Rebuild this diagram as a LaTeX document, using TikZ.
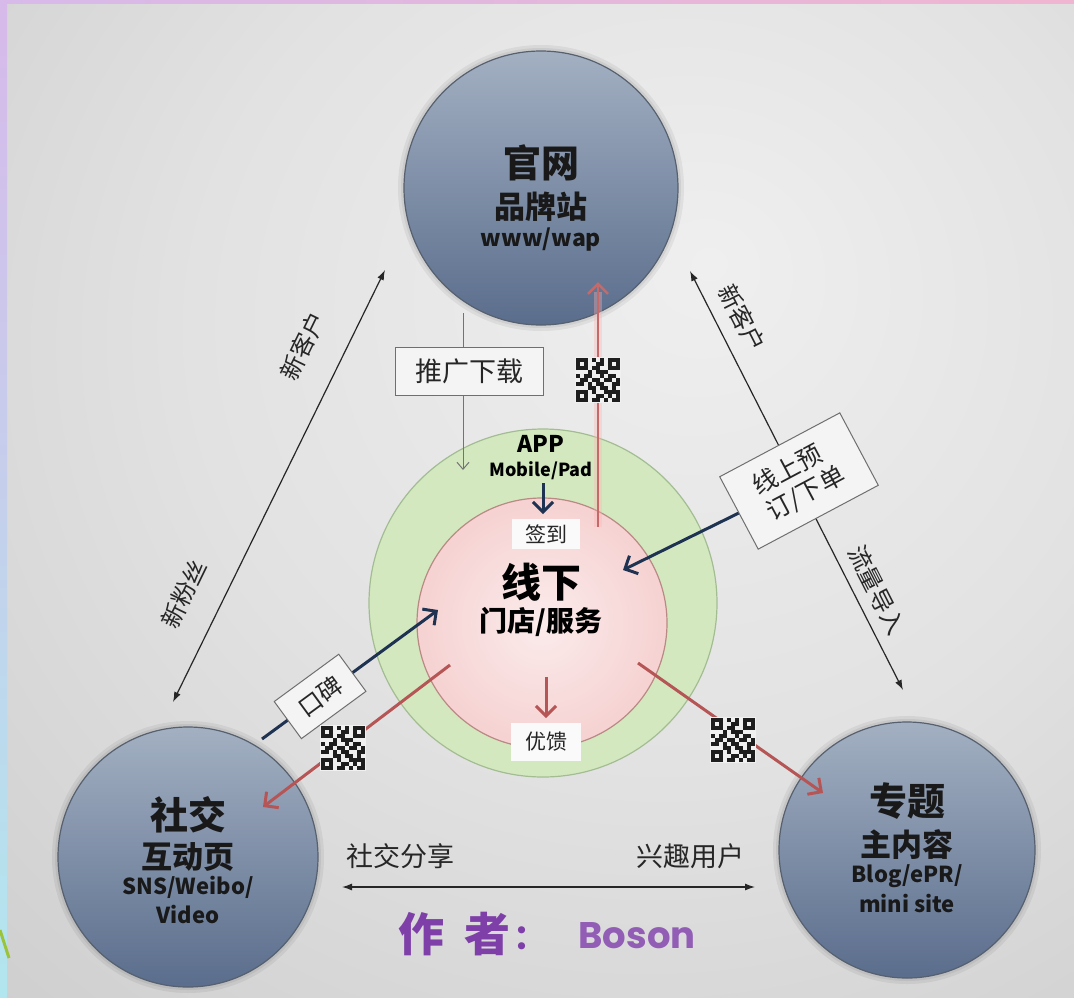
\documentclass[tikz,border=0pt]{standalone}
\usepackage{fontspec}
\setmainfont{Noto Sans CJK SC}
\newfontfamily\popfont{Poppins}
\usetikzlibrary{arrows.meta}
\definecolor{bgA}{HTML}{EFEFEF}
\definecolor{bgB}{HTML}{E2E2E2}
\definecolor{bgC}{HTML}{C8C8C8}
\definecolor{bgD}{HTML}{A8A8A8}
\definecolor{bluetop}{HTML}{A3B0C2}
\definecolor{bluebot}{HTML}{5A6D8C}
\definecolor{bluebd}{HTML}{56606E}
\definecolor{greenfill}{HTML}{D4E8C0}
\definecolor{greenbd}{HTML}{A3BD93}
\definecolor{pinkin}{HTML}{FBEBEB}
\definecolor{pinkout}{HTML}{F1B8B8}
\definecolor{pinkbd}{HTML}{B98A84}
\definecolor{navy}{HTML}{1E3252}
\definecolor{redar}{HTML}{B65555}
\definecolor{redup}{HTML}{C46A6A}
\definecolor{boxbd}{HTML}{6F6F6F}
\definecolor{boxfill}{HTML}{F4F4F4}
\definecolor{authc}{HTML}{7E40A8}
\definecolor{qrc}{HTML}{1E1E1E}
\definecolor{lbtop}{HTML}{D7B9EA}
\definecolor{lbbot}{HTML}{B2E6EE}
\definecolor{tbright}{HTML}{F0B5D0}
\definecolor{cornergreen}{HTML}{9CC43A}
\pgfdeclareradialshading{bgshade}{\pgfpoint{8bp}{12bp}}{color(0bp)=(bgA); color(22bp)=(bgB); color(50bp)=(bgC); color(80bp)=(bgD)}
\pgfdeclareradialshading{pinkshade}{\pgfpoint{0bp}{0bp}}{color(0bp)=(pinkin); color(50bp)=(pinkout)}
\begin{document}
\begin{tikzpicture}[x=1pt,y=-1pt,
  bigc/.style={circle, draw=bluebd, line width=1.2pt, top color=bluetop, bottom color=bluebot, minimum size=#1, inner sep=0pt},
  ttl/.style={font=\bfseries\fontsize{38}{40}\selectfont, text=black!90},
  sub/.style={font=\bfseries\fontsize{31}{33}\selectfont, text=black!90},
  lat/.style={font=\bfseries\fontsize{22}{24}\selectfont, text=black!90},
  lab/.style={font=\fontsize{24}{26}\selectfont, text=black!85},
  tagbox/.style={draw=boxbd, line width=1pt, fill=boxfill, inner sep=0pt, font=\fontsize{26}{30}\selectfont, text=black!85},
  wtag/.style={fill=white!96!gray, inner sep=0pt, font=\fontsize{21}{23}\selectfont, text=black!85},
  dbl/.style={line width=1.2pt, draw=black!85, {Latex[length=10pt,width=7pt]}-{Latex[length=10pt,width=7pt]}},
  navyar/.style={line width=3pt, draw=navy, -{Straight Barb[length=10pt,width=20pt]}},
  redarr/.style={line width=3pt, draw=redar, -{Straight Barb[length=10pt,width=20pt]}},
  grayar/.style={line width=1pt, draw=black!55, -{Straight Barb[length=7pt,width=12pt]}},
  auth/.style={font=\bfseries\fontsize{46}{48}\selectfont, text=authc},
  qr/.pic={
    \fill[white!88!gray] (-23,-23) rectangle (23,23);
    \foreach \row [count=\i from 0] in {{1,1,1,0,1,0,1,0,1,1,1},{1,0,1,0,0,1,1,0,1,0,1},{1,1,1,0,1,1,0,0,1,1,1},{0,0,0,1,0,1,1,1,0,0,0},{1,0,1,1,0,0,1,0,1,1,0},{0,1,1,0,1,1,0,1,1,0,1},{1,1,0,1,0,1,1,0,0,1,1},{0,0,0,1,1,0,1,1,0,1,0},{1,1,1,0,1,0,0,1,1,1,1},{1,0,1,0,0,1,1,0,1,0,1},{1,1,1,0,1,1,0,1,0,1,1}}{
      \foreach \b [count=\j from 0] in \row {
        \ifnum\b=1 \fill[qrc] (-22+\j*4,-22+\i*4) rectangle ++(4,4); \fi
      }
    }
  }
]
\useasboundingbox (0,0) rectangle (1074,997);
% background
\shade[shading=bgshade] (7,3) rectangle (1074,997);
\shade[top color=lbtop, bottom color=lbbot] (0,0) rectangle (7,997);
\shade[left color=lbtop, right color=tbright] (0,0) rectangle (1074,3);
\draw[line width=3pt, draw=cornergreen] (0,930) -- (9,958);

% halos
\foreach \cx/\cy/\r in {541/188/137, 188/857/130, 907/850/128}{
  \fill[black, opacity=0.06] (\cx,\cy) circle[radius=\r+6];
  \fill[black, opacity=0.06] (\cx,\cy) circle[radius=\r+3];
}
% big circles
\node[bigc=274] (gw) at (541,188) {};
\node[bigc=260] (sj) at (188,857) {};
\node[bigc=256] (zt) at (907,850) {};
% center rings
\node[circle, draw=greenbd, line width=1.2pt, fill=greenfill, minimum size=348, inner sep=0pt] (app) at (543,603) {};
\node[circle, draw=pinkbd, line width=1.2pt, shading=pinkshade, minimum size=250, inner sep=0pt] (xx) at (542,623) {};

% coordinates
\coordinate (la) at (385,270);
\coordinate (lb) at (173,702);
\coordinate (ra) at (690,271);
\coordinate (rb) at (903,690);
\coordinate (ba) at (342,887);
\coordinate (bb) at (755,887);
\coordinate (g1) at (463,313);
\coordinate (g2) at (463,470);
\coordinate (p1) at (543,483);
\coordinate (p2) at (543,514);
\coordinate (u1) at (598,527);
\coordinate (u2) at (598,282);
\coordinate (d1) at (546,677);
\coordinate (d2) at (546,718);
\coordinate (rl1) at (450,665);
\coordinate (rl2) at (263,807);
\coordinate (rr1) at (638,663);
\coordinate (rr2) at (823,793);
\coordinate (k1) at (262,739);
\coordinate (k2) at (438,610);
\coordinate (n2) at (623,570);

% double arrows
\draw[dbl] (la) -- (lb);
\draw[dbl] (ra) -- (rb);
\draw[dbl] (ba) -- (bb);
% gray arrow
\draw[grayar] (g1) -- (g2);
% red up arrow with glow
\draw[line width=8pt, draw=red!30, opacity=0.35] (u1) -- (598,292);
\draw[line width=2.6pt, draw=redup, -{Straight Barb[length=10pt,width=20pt]}] (u1) -- (u2);
% navy APP arrow
\draw[navyar] (p1) -- (p2);
% red arrows
\draw[redarr] (d1) -- (d2);
\draw[redarr] (rl1) -- (rl2);
\draw[redarr] (rr1) -- (rr2);
% koubei arrow
\draw[navyar] (k1) -- node[tagbox, sloped, pos=0.33, minimum width=80, minimum height=46, font=\fontsize{24}{26}\selectfont] (kb) {口碑} (k2);
% online order box
\node[tagbox, rotate=28, minimum width=136, minimum height=82, align=left, font=\fontsize{25}{29}\selectfont] (xs) at (799,481) {线上预\\订/下单};
\draw[navyar] (xs.west) -- (n2);
% push box
\node[tagbox, minimum width=148, minimum height=48, font=\fontsize{27}{29}\selectfont] (tg) at (469,371) {推广下载};

% QR codes
\pic (qr1) at (598,380) {qr};
\pic (qr2) at (343,748) {qr};
\pic (qr3) at (733,740) {qr};

% texts top circle
\node[ttl] (gwt1) at (541,163) {官网};
\node[sub] (gwt2) at (541,207) {品牌站};
\node[lat, font=\bfseries\fontsize{23}{25}\selectfont] (gwt3) at (541,240) {www/wap};
% bottom-left
\node[ttl] (sjt1) at (188,815) {社交};
\node[sub] (sjt2) at (188,857) {互动页};
\node[lat] (sjt3) at (188,887) {SNS/Weibo/};
\node[lat] (sjt4) at (188,914) {Video};
% bottom-right
\node[ttl] (ztt1) at (907,801) {专题};
\node[sub] (ztt2) at (907,845) {主内容};
\node[lat] (ztt3) at (907,876) {Blog/ePR/};
\node[lat] (ztt4) at (907,903) {mini site};
% center
\node[font=\bfseries\fontsize{23}{25}\selectfont] (appt1) at (541,444) {APP};
\node[font=\bfseries\fontsize{18}{20}\selectfont] (appt2) at (541,471) {Mobile/Pad};
\node[wtag, minimum width=68, minimum height=30] (qd) at (546,534) {签到};
\node[font=\bfseries\fontsize{40}{42}\selectfont] (xxt1) at (541,582) {线下};
\node[font=\bfseries\fontsize{28}{30}\selectfont] (xxt2) at (541,622) {门店/服务};
\node[wtag, minimum width=70, minimum height=38] (yk) at (546,742) {优馈};

% arrow labels
\node[lab, rotate=64] (l1) at (303,346) {新客户};
\node[lab, rotate=64] (l2) at (184,594) {新粉丝};
\node[lab, rotate=-63] (l3) at (742,318) {新客户};
\node[lab, rotate=-63] (l4) at (877,590) {流量导入};
\node[lab, font=\fontsize{27}{29}\selectfont] (l5) at (400,856) {社交分享};
\node[lab, font=\fontsize{27}{29}\selectfont] (l6) at (690,856) {兴趣用户};

% author
\node[auth] (au1) at (421,934) {作};
\node[auth] (au2) at (487,934) {者};
\node[auth, font=\bfseries\fontsize{34}{36}\selectfont] (au3) at (530,938) {：};
\node[auth, font=\popfont\bfseries\fontsize{37}{39}\selectfont, text=authc!85!white] (au4) at (637,936) {Boson};
\end{tikzpicture}
\end{document}
